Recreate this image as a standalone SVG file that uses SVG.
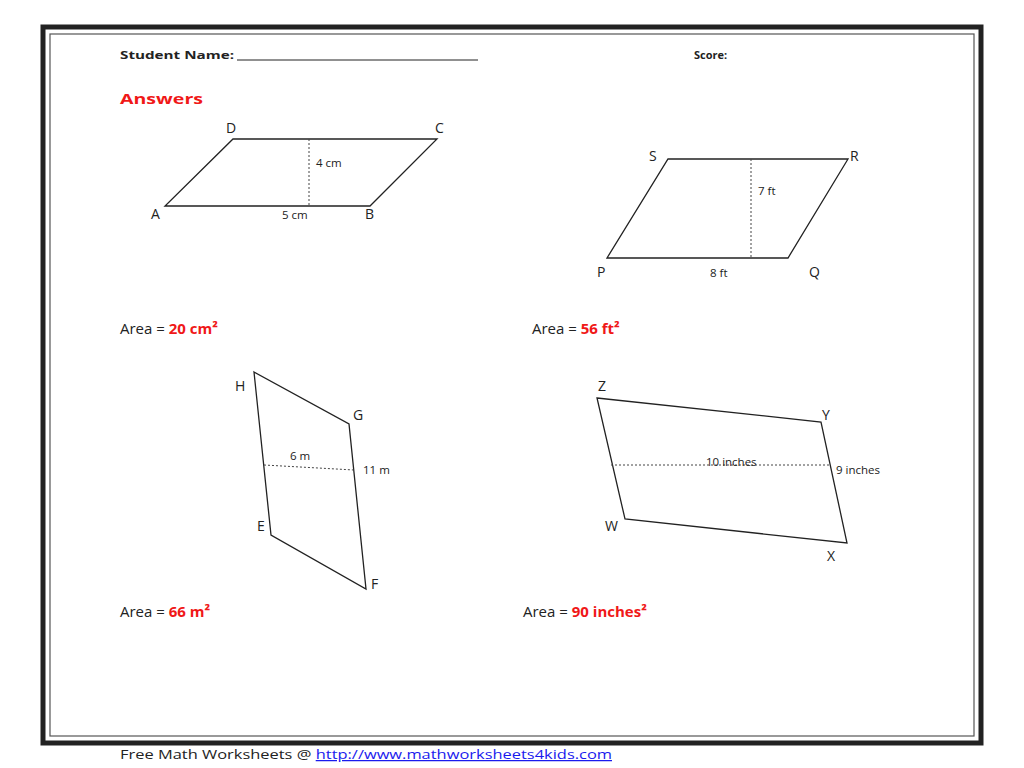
<svg xmlns="http://www.w3.org/2000/svg" width="1024" height="768" viewBox="0 0 1024 768">
<style>
text{font-family:"Open Sans","Liberation Sans",sans-serif;fill:#222}
.h{font-size:11px;font-weight:bold}
.l{font-size:14px}
.s{font-size:11.5px}
.a{font-size:15px}
.r{fill:#f01818;font-weight:bold}
.shape{fill:none;stroke:#222;stroke-width:1.3}
.d{stroke:#444;stroke-width:1;stroke-dasharray:2,2;fill:none}
</style>
<rect x="0" y="0" width="1024" height="768" fill="#fff"/>
<rect x="43" y="27" width="938" height="716" fill="none" stroke="#222" stroke-width="5"/>
<rect x="50" y="34" width="924" height="702" fill="none" stroke="#555" stroke-width="1.2"/>
<text class="h" x="120" y="59" textLength="114" lengthAdjust="spacingAndGlyphs">Student Name:</text>
<line x1="237" y1="60" x2="478" y2="60" stroke="#222" stroke-width="1"/>
<text class="h" x="694" y="59">Score:</text>
<text x="120" y="104" textLength="83" lengthAdjust="spacingAndGlyphs" style="font-size:13.5px;font-weight:bold;fill:#f01818">Answers</text>
<g id="p1">
<polygon class="shape" points="165,206 370,206 437,139 233,139"/>
<line class="d" x1="309" y1="139" x2="309" y2="206"/>
<text class="s" x="316" y="167">4 cm</text><text class="s" x="282" y="219">5 cm</text>
<text class="l" x="151" y="219">A</text><text class="l" x="365" y="219">B</text><text class="l" x="226" y="133">D</text><text class="l" x="435" y="133">C</text>
</g>
<g id="p2">
<polygon class="shape" points="607,258 788,258 848,159 668,159"/>
<line class="d" x1="751" y1="159" x2="751" y2="258"/>
<text class="s" x="758" y="195">7 ft</text><text class="s" x="710" y="277">8 ft</text>
<text class="l" x="649" y="161">S</text><text class="l" x="850" y="161">R</text><text class="l" x="597" y="277">P</text><text class="l" x="809" y="277">Q</text>
</g>
<g id="p3">
<polygon class="shape" points="254,372 349,424 366,589 271,535"/>
<line class="d" x1="264" y1="465" x2="354" y2="470"/>
<text class="s" x="290" y="460">6 m</text><text class="s" x="363" y="474">11 m</text>
<text class="l" x="235" y="391">H</text><text class="l" x="353" y="420">G</text><text class="l" x="257" y="531">E</text><text class="l" x="371" y="589">F</text>
</g>
<g id="p4">
<polygon class="shape" points="597,398 821,422 847,543 625,519"/>
<line class="d" x1="611" y1="465" x2="831" y2="465"/>
<text class="s" x="706" y="466">10 inches</text><text class="s" x="836" y="474">9 inches</text>
<text class="l" x="598" y="391">Z</text><text class="l" x="822" y="420">Y</text><text class="l" x="605" y="531">W</text><text class="l" x="827" y="561">X</text>
</g>
<text class="a" x="120" y="334">Area = <tspan class="r">20 cm²</tspan></text>
<text class="a" x="532" y="334">Area = <tspan class="r">56 ft²</tspan></text>
<text class="a" x="120" y="617">Area = <tspan class="r">66 m²</tspan></text>
<text class="a" x="523" y="617">Area = <tspan class="r">90 inches²</tspan></text>
<text x="120" y="759" style="font-size:12.5px" textLength="492" lengthAdjust="spacingAndGlyphs">Free Math Worksheets @ <tspan style="fill:#1a1aee;text-decoration:underline">http://www.mathworksheets4kids.com</tspan></text>
</svg>
